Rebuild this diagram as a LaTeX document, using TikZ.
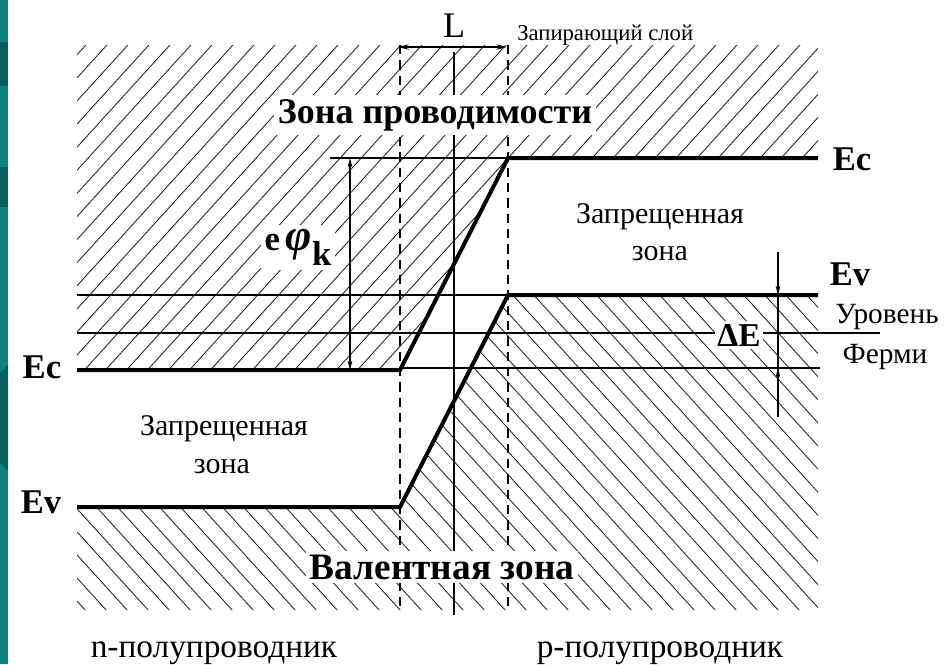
\documentclass[tikz,border=0pt]{standalone}
\usepackage{fontspec}
\setmainfont{Liberation Serif}
\usetikzlibrary{arrows.meta}
\definecolor{tealA}{HTML}{0A8282}
\definecolor{tealB}{HTML}{045E5E}
\begin{document}
\begin{tikzpicture}[x=0.75pt,y=-0.75pt,
  thickline/.style={line width=3pt},
  thinline/.style={line width=1.1pt},
  hatchline/.style={line width=0.65pt, black!85},
  dashline/.style={line width=1.1pt, dash pattern=on 7pt off 4.5pt},
  dimarrow/.style={line width=1pt, -{Stealth[length=7pt,width=3.5pt]}},
  txt/.style={inner sep=0pt, anchor=base},
  wbox/.style={fill=white, inner sep=3pt, anchor=base}]
\useasboundingbox (0,0) rectangle (945,664);
% left strip
\fill[tealA] (0,0) rectangle (8,664);
\fill[tealB] (0,42) rectangle (8,86);
\fill[tealB] (0,167) rectangle (8,207);
\fill[tealB] (0,373) -- (8,366) -- (8,470) -- (0,463) -- cycle;
% key coordinates
\coordinate (TL) at (77,45);
\coordinate (TR) at (818,45);
\coordinate (BL) at (77,610);
\coordinate (BR) at (818,610);
\coordinate (EcL0) at (77,370);
\coordinate (EcL1) at (400,370);
\coordinate (EcR0) at (508,158);
\coordinate (EcR1) at (818,158);
\coordinate (EvL0) at (77,507);
\coordinate (EvL1) at (400,507);
\coordinate (EvR0) at (508,295);
\coordinate (EvR1) at (818,295);
% conduction band hatching
\begin{scope}
\clip (TL) -- (TR) -- (EcR1) -- (EcR0) -- (EcL1) -- (EcL0) -- cycle;
\foreach \s in {-560,-539,...,840} \draw[hatchline] (\s,640) -- ++(580,-638);
\end{scope}
% valence band hatching
\begin{scope}
\clip (EvL0) -- (EvL1) -- (EvR0) -- (EvR1) -- (BR) -- (BL) -- cycle;
\foreach \s in {-560,-539,...,840} \draw[hatchline] (\s,270) -- ++(580,638);
\end{scope}
% thin horizontal lines
\coordinate (phiT) at (330,158);
\coordinate (F0) at (77,333);
\coordinate (F1) at (880,333);
\coordinate (D0) at (400,368);
\coordinate (D1) at (820,368);
\draw[thinline] (phiT) -- (EcR0);
\draw[thinline] (EvL0 |- EvR0) -- (EvR0);
\draw[thinline] (F0) -- (F1);
\draw[thinline] (D0) -- (D1);
% vertical lines
\coordinate (V1t) at (400,45);
\coordinate (V1b) at (400,612);
\coordinate (V2t) at (508,45);
\coordinate (V2b) at (508,612);
\coordinate (V3t) at (454,52);
\coordinate (V3b) at (454,615);
\draw[dashline] (V1t) -- (V1b);
\draw[dashline] (V2t) -- (V2b);
\draw[thinline] (V3t) -- (V3b);
% band edges
\draw[thickline] (EcL0) -- (EcL1) -- (EcR0) -- (EcR1);
\draw[thickline] (EvL0) -- (EvL1) -- (EvR0) -- (EvR1);
% L arrow
\coordinate (La) at (398,47);
\coordinate (Lb) at (507,47);
\draw[line width=1.2pt, {Stealth[length=8pt,width=4pt]}-{Stealth[length=8pt,width=4pt]}] (La) -- (Lb);
\node[txt, font=\fontsize{27}{27}\selectfont] (Llbl) at (454,37) {L};
\node[txt, font=\fontsize{17}{17}\selectfont, anchor=base west] (sloy) at (517,40) {Запирающий слой};
% e phi k arrow
\coordinate (pA) at (350,158);
\coordinate (pB) at (350,370);
\draw[line width=1pt, {Stealth[length=7pt,width=3.5pt]}-{Stealth[length=7pt,width=3.5pt]}] (pA) -- (pB);
\node[wbox, font=\bfseries\fontsize{26}{26}\selectfont] (ephi) at (298,250) {e\,\scalebox{1.3}{\textit{φ}}\raisebox{-0.45em}{k}};
% Delta E arrows
\coordinate (dT) at (778,252);
\coordinate (dB) at (778,417);
\coordinate (dTe) at (778,295);
\coordinate (dBe) at (778,368);
\draw[line width=1pt] (dT) -- (dB);
\draw[dimarrow] (dT) -- (dTe);
\draw[dimarrow] (dB) -- (dBe);
\node[wbox, font=\bfseries\fontsize{25}{25}\selectfont, inner sep=2pt] (dE) at (739,346) {ΔE};
% zone titles
\node[wbox, font=\bfseries\fontsize{27}{27}\selectfont] (cond) at (435,123) {Зона проводимости};
\node[wbox, font=\bfseries\fontsize{28}{28}\selectfont] (val) at (442,579) {Валентная зона};
% gap labels
\node[txt, font=\fontsize{22.5}{22.5}\selectfont] (gapR1) at (660,223) {Запрещенная};
\node[txt, font=\fontsize{22.5}{22.5}\selectfont] (gapR2) at (660,260) {зона};
\node[txt, font=\fontsize{22.5}{22.5}\selectfont] (gapL1) at (224,435) {Запрещенная};
\node[txt, font=\fontsize{22.5}{22.5}\selectfont] (gapL2) at (222,473) {зона};
% energy labels
\node[txt, font=\bfseries\fontsize{26}{26}\selectfont] (EcR) at (852,170) {Ec};
\node[txt, font=\bfseries\fontsize{26}{26}\selectfont] (EvR) at (850,285) {Ev};
\node[txt, font=\bfseries\fontsize{26}{26}\selectfont] (EcL) at (42,378) {Ec};
\node[txt, font=\bfseries\fontsize{26}{26}\selectfont] (EvL) at (41,513) {Ev};
\node[txt, font=\fontsize{22}{22}\selectfont] (fermi1) at (887,323) {Уровень};
\node[txt, font=\fontsize{22}{22}\selectfont] (fermi2) at (885,363) {Ферми};
% semiconductor labels
\node[txt, font=\fontsize{25}{25}\selectfont] (nlbl) at (214,657) {n-полупроводник};
\node[txt, font=\fontsize{25}{25}\selectfont] (plbl) at (660,657) {р-полупроводник};
\end{tikzpicture}
\end{document}
